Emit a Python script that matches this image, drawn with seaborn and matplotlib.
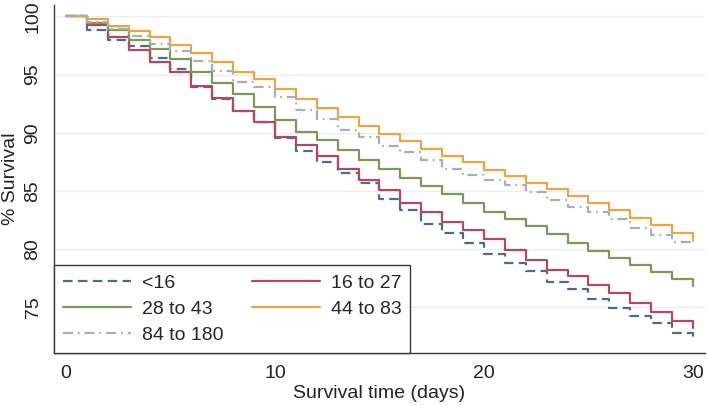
import numpy as np
import pandas as pd
import matplotlib
matplotlib.use('Agg')
import matplotlib.pyplot as plt
import seaborn as sns

# Gün (0..30) ve grup bazında sağkalım yüzdeleri
days = list(range(31))
groups = ['<16', '16 to 27', '28 to 43', '44 to 83', '84 to 180']

surv_lt16 = [100, 98.83, 97.97, 97.49, 96.43, 95.49, 93.9, 92.9, 91.86, 90.9,
             89.58, 88.4, 87.5, 86.55, 85.7, 84.35, 83.4, 82.2, 81.4, 80.55,
             79.6, 78.8, 78.1, 77.2, 76.55, 75.7, 74.9, 74.27, 73.63, 72.83, 72.2]
surv_16_27 = [100, 99.3, 98.26, 97.12, 96.06, 95.2, 94.06, 93.0, 91.9, 90.9,
              89.63, 88.92, 87.98, 86.92, 85.98, 85.06, 84.0, 83.2, 82.35, 81.64,
              80.84, 79.92, 79.07, 78.2, 77.7, 76.92, 76.2, 75.4, 74.6, 73.8, 73.2]
surv_28_43 = [100, 99.45, 98.8, 97.97, 97.2, 96.35, 95.2, 94.26, 93.3, 92.2,
              91.1, 90.1, 89.4, 88.55, 87.7, 86.92, 86.1, 85.4, 84.7, 84.0,
              83.2, 82.6, 82.0, 81.3, 80.55, 79.8, 79.2, 78.6, 78.05, 77.4, 76.8]
surv_44_83 = [100, 99.8, 99.2, 98.77, 98.26, 97.55, 96.9, 96.1, 95.2, 94.6,
              93.75, 92.9, 92.15, 91.35, 90.55, 89.9, 89.3, 88.65, 88.0, 87.45,
              86.8, 86.3, 85.7, 85.15, 84.6, 84.0, 83.35, 82.7, 82.05, 81.4, 80.7]
surv_84_180 = [100, 99.5, 98.95, 98.3, 97.63, 97.06, 96.14, 95.3, 94.4, 93.9,
               93.06, 91.98, 91.15, 90.2, 89.63, 88.83, 88.35, 87.7, 86.9, 86.35,
               85.9, 85.5, 84.92, 84.2, 83.6, 83.2, 82.55, 81.85, 81.2, 80.6, 80.6]

series = [surv_lt16, surv_16_27, surv_28_43, surv_44_83, surv_84_180]

df = pd.concat([pd.DataFrame({'day': days, 'surv': s, 'group': g})
                for g, s in zip(groups, series)], ignore_index=True)

colors = ['#4f6a8c', '#b04a60', '#7d9857', '#eaa545', '#a9aeb4']
styles = [(0, (4.3, 2.4)), '-', '-', '-', (0, (4.5, 2.2, 0.8, 2.2))]

sns.set_style('white')
plt.rcParams['font.family'] = ['Liberation Sans', 'DejaVu Sans']

fig = plt.figure(figsize=(7.07, 4.05), dpi=100)
ax = fig.add_axes([0.0764, 0.1284, 0.9206, 0.8596])

for g, c, ls in zip(groups, colors, styles):
    sns.lineplot(data=df[df['group'] == g], x='day', y='surv', ax=ax,
                 color=c, linestyle=ls, linewidth=1.6, drawstyle='steps-post',
                 label=g, estimator=None)

ax.set_xlim(-0.57, 30.57)
ax.set_ylim(71.07, 101.0)
ax.set_xticks([0, 10, 20, 30])
ax.set_yticks([75, 80, 85, 90, 95, 100])
ax.set_yticklabels(['75', '80', '85', '90', '95', '100'], rotation=90, va='center')
ax.yaxis.grid(True, color='#e9edf1', linewidth=1)
ax.xaxis.grid(False)

for s in ['top', 'right']:
    ax.spines[s].set_visible(False)
for s in ['left', 'bottom']:
    ax.spines[s].set_color('#3a3a3a')
    ax.spines[s].set_linewidth(1.0)

ax.tick_params(axis='both', direction='out', length=5, width=1, color='#3a3a3a',
               labelsize=14, labelcolor='#222222', pad=4)
ax.set_xlabel('Survival time (days)', fontsize=14, color='#222222', labelpad=2)
ax.set_ylabel('% Survival', fontsize=14, color='#222222')
ax.yaxis.set_label_coords(-0.054, 0.5)

# Lejant: satır sırasına göre (2 sütun)
h, l = ax.get_legend_handles_labels()
order = [0, 2, 4, 1, 3]
leg = ax.legend([h[i] for i in order], [l[i] for i in order], ncol=2,
                loc='lower left', bbox_to_anchor=(0, 0), borderaxespad=0,
                fontsize=14, handlelength=3.5, handletextpad=0.55,
                columnspacing=1.5, labelspacing=0.45, borderpad=0.45,
                frameon=True, fancybox=False, edgecolor='#3a3a3a')
leg.get_frame().set_linewidth(1.0)
leg.get_frame().set_facecolor('white')
leg.get_frame().set_alpha(1)

plt.savefig('out.png', dpi=100)
